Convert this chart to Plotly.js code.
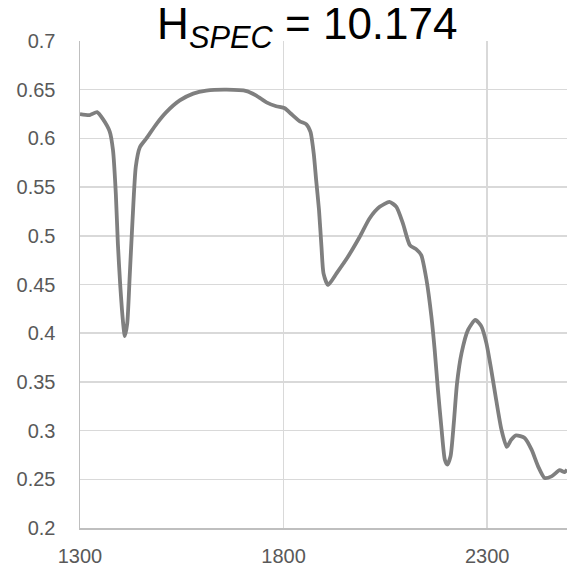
<!DOCTYPE html>
<html><head><meta charset="utf-8">
<script src="https://cdn.plot.ly/plotly-3.0.1.min.js"></script>
<style>html,body{margin:0;padding:0;background:#fff}#chart{width:567px;height:568px}</style>
</head><body><div id="chart"></div>
<script>
const wavelength = [1300,1324,1342,1356,1373,1381,1388,1393,1399,1406,1410,1416,1422,1429,1437,1447,1463,1488,1512,1545,1578,1610,1660,1709,1733,1758,1782,1803,1819,1840,1856,1866,1874,1880,1887,1893,1898,1909,1930,1958,1987,2011,2036,2060,2077,2093,2110,2126,2138,2151,2163,2171,2179,2188,2196,2202,2210,2218,2226,2237,2253,2271,2286,2298,2310,2322,2335,2348,2359,2371,2392,2409,2425,2441,2458,2478,2490,2496];
const reflectance = [0.625,0.624,0.627,0.620,0.607,0.588,0.543,0.492,0.448,0.410,0.397,0.410,0.458,0.516,0.571,0.591,0.600,0.615,0.627,0.639,0.646,0.649,0.650,0.6486,0.644,0.637,0.633,0.631,0.625,0.6175,0.6145,0.6066,0.5844,0.557,0.5263,0.489,0.4615,0.4495,0.4615,0.4785,0.499,0.5178,0.5297,0.5348,0.5297,0.5127,0.4905,0.486,0.4802,0.4546,0.417,0.383,0.342,0.301,0.270,0.265,0.2736,0.3078,0.3488,0.3795,0.4034,0.4136,0.4068,0.3898,0.3624,0.3317,0.301,0.2832,0.2907,0.2951,0.2924,0.2804,0.2633,0.2514,0.253,0.2593,0.2573,0.26];
const titleText = 'H<sub><i>SPEC</i></sub> = 10.174';
const xTicks = [1300,1800,2300];
const yTicks = [0.2,0.25,0.3,0.35,0.4,0.45,0.5,0.55,0.6,0.65,0.7];
const yTickText = ['0.2','0.25','0.3','0.35','0.4','0.45','0.5','0.55','0.6','0.65','0.7'];

Plotly.newPlot('chart', [{
  x: wavelength, y: reflectance, type: 'scatter', mode: 'lines',
  line: {color: '#7f7f7f', width: 3.8, shape: 'spline', smoothing: 0.6},
  hoverinfo: 'skip'
}], {
  width: 567, height: 568,
  margin: {l: 80, r: 0, t: 40.5, b: 39.5},
  paper_bgcolor: '#fff', plot_bgcolor: '#fff',
  showlegend: false,
  font: {family: 'Liberation Sans, Arial, sans-serif', color: '#595959', size: 20},
  title: {text: titleText, font: {size: 44, color: '#000', family: 'Liberation Sans, Arial, sans-serif'},
          xref: 'container', x: 0.542, xanchor: 'center', yref: 'container', y: 0.986, yanchor: 'top', pad: {t: 0}},
  xaxis: {range: [1300, 2496], tickvals: xTicks, ticktext: xTicks.map(String),
          showgrid: true, gridcolor: '#d9d9d9', gridwidth: 1.5, zeroline: false,
          showline: true, linecolor: '#bfbfbf', linewidth: 1.5,
          ticks: 'outside', ticklen: 9, tickcolor: 'rgba(0,0,0,0)', tickfont: {size: 20, color: '#595959'}},
  yaxis: {range: [0.2, 0.7], tickvals: yTicks, ticktext: yTickText,
          showgrid: true, gridcolor: '#d9d9d9', gridwidth: 1.5, zeroline: false,
          showline: true, linecolor: '#bfbfbf', linewidth: 1.5,
          ticks: 'outside', ticklen: 19, tickcolor: 'rgba(0,0,0,0)', tickfont: {size: 20, color: '#595959'}}
}, {staticPlot: true});
</script></body></html>
